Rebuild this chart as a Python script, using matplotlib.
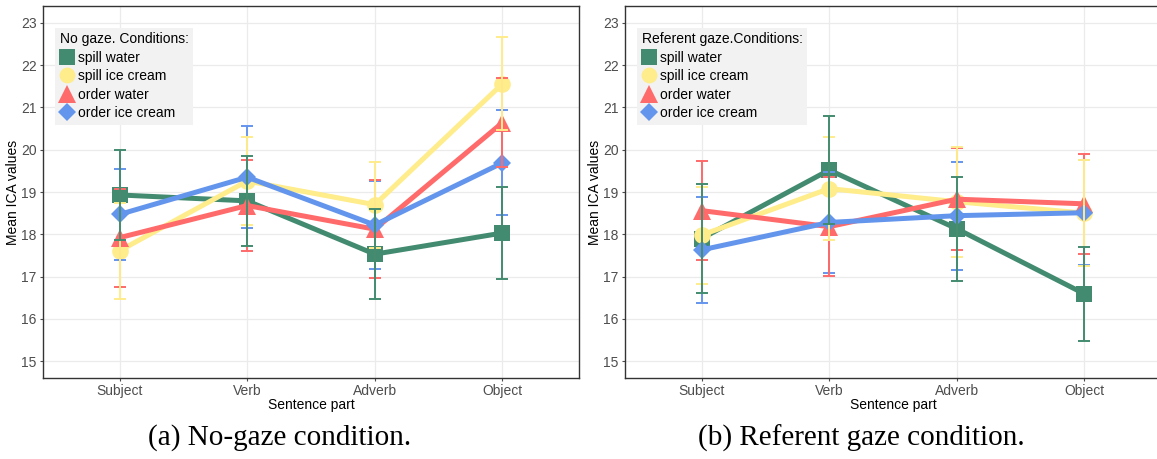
import numpy as np
import matplotlib.pyplot as plt

plt.rcParams['font.family'] = ['Liberation Sans', 'DejaVu Sans']

parts = ['Subject', 'Verb', 'Adverb', 'Object']
conditions = ['spill water', 'spill ice cream', 'order water', 'order ice cream']

# mean ICA values, no gaze
nogaze_spill_water = [18.93, 18.79, 17.53, 18.03]
nogaze_spill_ice = [17.61, 19.26, 18.70, 21.56]
nogaze_order_water = [17.92, 18.68, 18.12, 20.64]
nogaze_order_ice = [18.47, 19.35, 18.22, 19.69]
# half-widths of the error bars, no gaze
nogaze_err_spill_water = [1.06, 1.07, 1.06, 1.09]
nogaze_err_spill_ice = [1.14, 1.05, 1.02, 1.10]
nogaze_err_order_water = [1.16, 1.08, 1.16, 1.06]
nogaze_err_order_ice = [1.08, 1.21, 1.04, 1.24]

# mean ICA values, referent gaze
ref_spill_water = [17.90, 19.52, 18.13, 16.59]
ref_spill_ice = [17.98, 19.08, 18.77, 18.50]
ref_order_water = [18.56, 18.18, 18.83, 18.72]
ref_order_ice = [17.63, 18.28, 18.44, 18.51]
# half-widths of the error bars, referent gaze
ref_err_spill_water = [1.30, 1.28, 1.23, 1.12]
ref_err_spill_ice = [1.15, 1.22, 1.30, 1.26]
ref_err_order_water = [1.17, 1.17, 1.21, 1.19]
ref_err_order_ice = [1.26, 1.20, 1.28, 1.24]

colors = ['#438B70', '#FFEC8B', '#FF6A6A', '#6495ED']
markers = ['s', 'o', '^', 'D']
msizes = [12, 12, 13, 9.5]

yticks = [15, 16, 17, 18, 19, 20, 21, 22, 23]


def draw_panel(ax, means, errs, title):
    x = np.arange(1, len(parts) + 1)
    for k in range(4):
        ax.plot(x, means[k], color=colors[k], lw=3.6, marker=markers[k],
                ms=msizes[k], mec=colors[k], mew=0, label=conditions[k],
                zorder=3 + k)
    for k in [3, 2, 1, 0]:
        ax.errorbar(x, means[k], yerr=errs[k], fmt='none', ecolor=colors[k],
                    elinewidth=1.4, capsize=4, capthick=1.4, zorder=8 + (3 - k))
    ax.set_xlim(0.4, 4.6)
    ax.set_ylim(14.6, 23.4)
    ax.set_xticks(x)
    ax.set_xticklabels(parts)
    ax.set_yticks(yticks)
    ax.grid(True, color='#EBEBEB', lw=0.9)
    ax.set_axisbelow(True)
    ax.tick_params(colors='#4D4D4D', labelcolor='#4D4D4D', labelsize=10,
                   length=2.5, width=0.8, pad=2)
    for s in ax.spines.values():
        s.set_color('#333333')
        s.set_linewidth(1.0)
    ax.set_xlabel('Sentence part', fontsize=10, labelpad=0)
    ax.set_ylabel('Mean ICA values', fontsize=10, labelpad=1)

    handles = [plt.Line2D([], [], ls='none', marker=markers[k], ms=msizes[k] * 0.95,
                          color=colors[k], mew=0) for k in range(4)]
    leg = ax.legend(handles, conditions, title=title, loc='upper left',
                    bbox_to_anchor=(0.022, 0.942), frameon=True, fontsize=10,
                    title_fontsize=10, handlelength=1.0, handletextpad=0.3,
                    labelspacing=0.32, borderpad=0.35, borderaxespad=0)
    leg._legend_box.align = 'left'
    frame = leg.get_frame()
    frame.set_facecolor('#F2F2F2')
    frame.set_edgecolor('none')
    frame.set_alpha(1)
    frame.set_boxstyle('square', pad=0)
    leg.set_zorder(20)


fig = plt.figure(figsize=(11.57, 4.59), dpi=100)
W, H = 1157, 459
ax1 = fig.add_axes([43 / W, 1 - 378 / H, 536 / W, 372 / H])
ax2 = fig.add_axes([625 / W, 1 - 378 / H, 536 / W, 372 / H])

draw_panel(ax1,
           [nogaze_spill_water, nogaze_spill_ice, nogaze_order_water, nogaze_order_ice],
           [nogaze_err_spill_water, nogaze_err_spill_ice, nogaze_err_order_water, nogaze_err_order_ice],
           'No gaze. Conditions:')
draw_panel(ax2,
           [ref_spill_water, ref_spill_ice, ref_order_water, ref_order_ice],
           [ref_err_spill_water, ref_err_spill_ice, ref_err_order_water, ref_err_order_ice],
           'Referent gaze.Conditions:')

fig.text(280 / W, 1 - 438 / H, '(a) No-gaze condition.', ha='center', va='center',
         fontsize=21, family='Liberation Serif')
fig.text(861 / W, 1 - 438 / H, '(b) Referent gaze condition.', ha='center', va='center',
         fontsize=21, family='Liberation Serif')

fig.savefig('out.png', dpi=100)
